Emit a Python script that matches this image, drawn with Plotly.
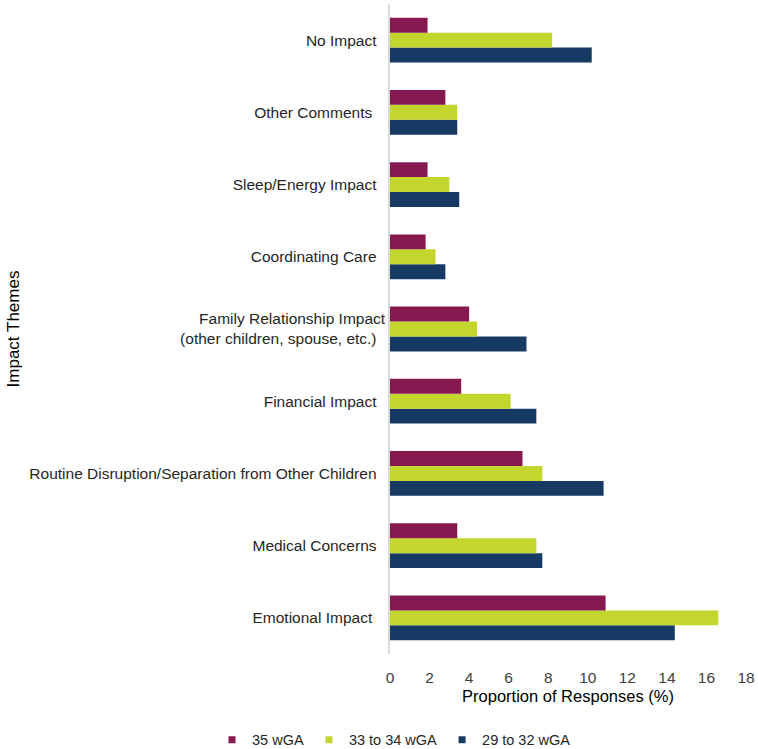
import plotly.graph_objects as go

categories = [
    "Emotional Impact ",
    "Medical Concerns",
    "Routine Disruption/Separation from Other Children",
    "Financial Impact",
    "Family Relationship Impact<br>(other children, spouse, etc.)",
    "Coordinating Care",
    "Sleep/Energy Impact",
    "Other Comments ",
    "No Impact",
]
wga_35 = [10.9, 3.4, 6.7, 3.6, 4.0, 1.8, 1.9, 2.8, 1.9]
wga_33_34 = [16.6, 7.4, 7.7, 6.1, 4.4, 2.3, 3.0, 3.4, 8.2]
wga_29_32 = [14.4, 7.7, 10.8, 7.4, 6.9, 2.8, 3.5, 3.4, 10.2]

series = [
    ("29 to 32 wGA", wga_29_32, "#173A64"),
    ("33 to 34 wGA", wga_33_34, "#C3D62E"),
    ("35 wGA", wga_35, "#861A50"),
]

fig = go.Figure()
for name, vals, color in series:
    fig.add_trace(go.Bar(
        y=categories, x=vals, name=name, orientation="h",
        marker=dict(color=color, line=dict(width=0)),
        showlegend=False,
    ))
# legend entries with small square swatches
for name, vals, color in series:
    fig.add_trace(go.Scatter(
        x=[None], y=[None], mode="markers", name=name,
        marker=dict(symbol="square", size=7, color=color),
    ))

font_family = "Liberation Sans, Arial, sans-serif"
fig.update_layout(
    width=758, height=749,
    barmode="group", bargap=0.38, bargroupgap=0,
    plot_bgcolor="white", paper_bgcolor="white",
    margin=dict(l=390, r=12, t=4, b=95, autoexpand=False),
    font=dict(family=font_family, size=15, color="#404040"),
    xaxis=dict(
        range=[0, 18], dtick=2, showgrid=False, zeroline=False,
        showline=False, ticks="", tickfont=dict(size=15.5, color="#404040"),
        ticklabelstandoff=12, automargin=False,
        title=dict(text="Proportion of Responses (%)", font=dict(size=16.5, color="#000000"), standoff=5),
    ),
    yaxis=dict(
        categoryorder="array", categoryarray=categories, automargin=False,
        showgrid=False, zeroline=False, showline=True, linecolor="#d9d9d9", linewidth=1.5,
        ticks="", ticksuffix="  ", tickfont=dict(size=15.5, color="#262626"),
        title=dict(text="Impact Themes", font=dict(size=17, color="#000000"), standoff=5),
    ),
    legend=dict(
        orientation="h", x=-0.50, xanchor="left",
        y=-0.132, yanchor="middle",
        traceorder="reversed", font=dict(size=14.5, color="#262626"),
        itemwidth=30,
    ),
)

fig.write_html(
    "out.html",
    config={"displayModeBar": False},
    post_script="document.body.style.margin='0px';document.body.style.overflow='hidden';",
)
